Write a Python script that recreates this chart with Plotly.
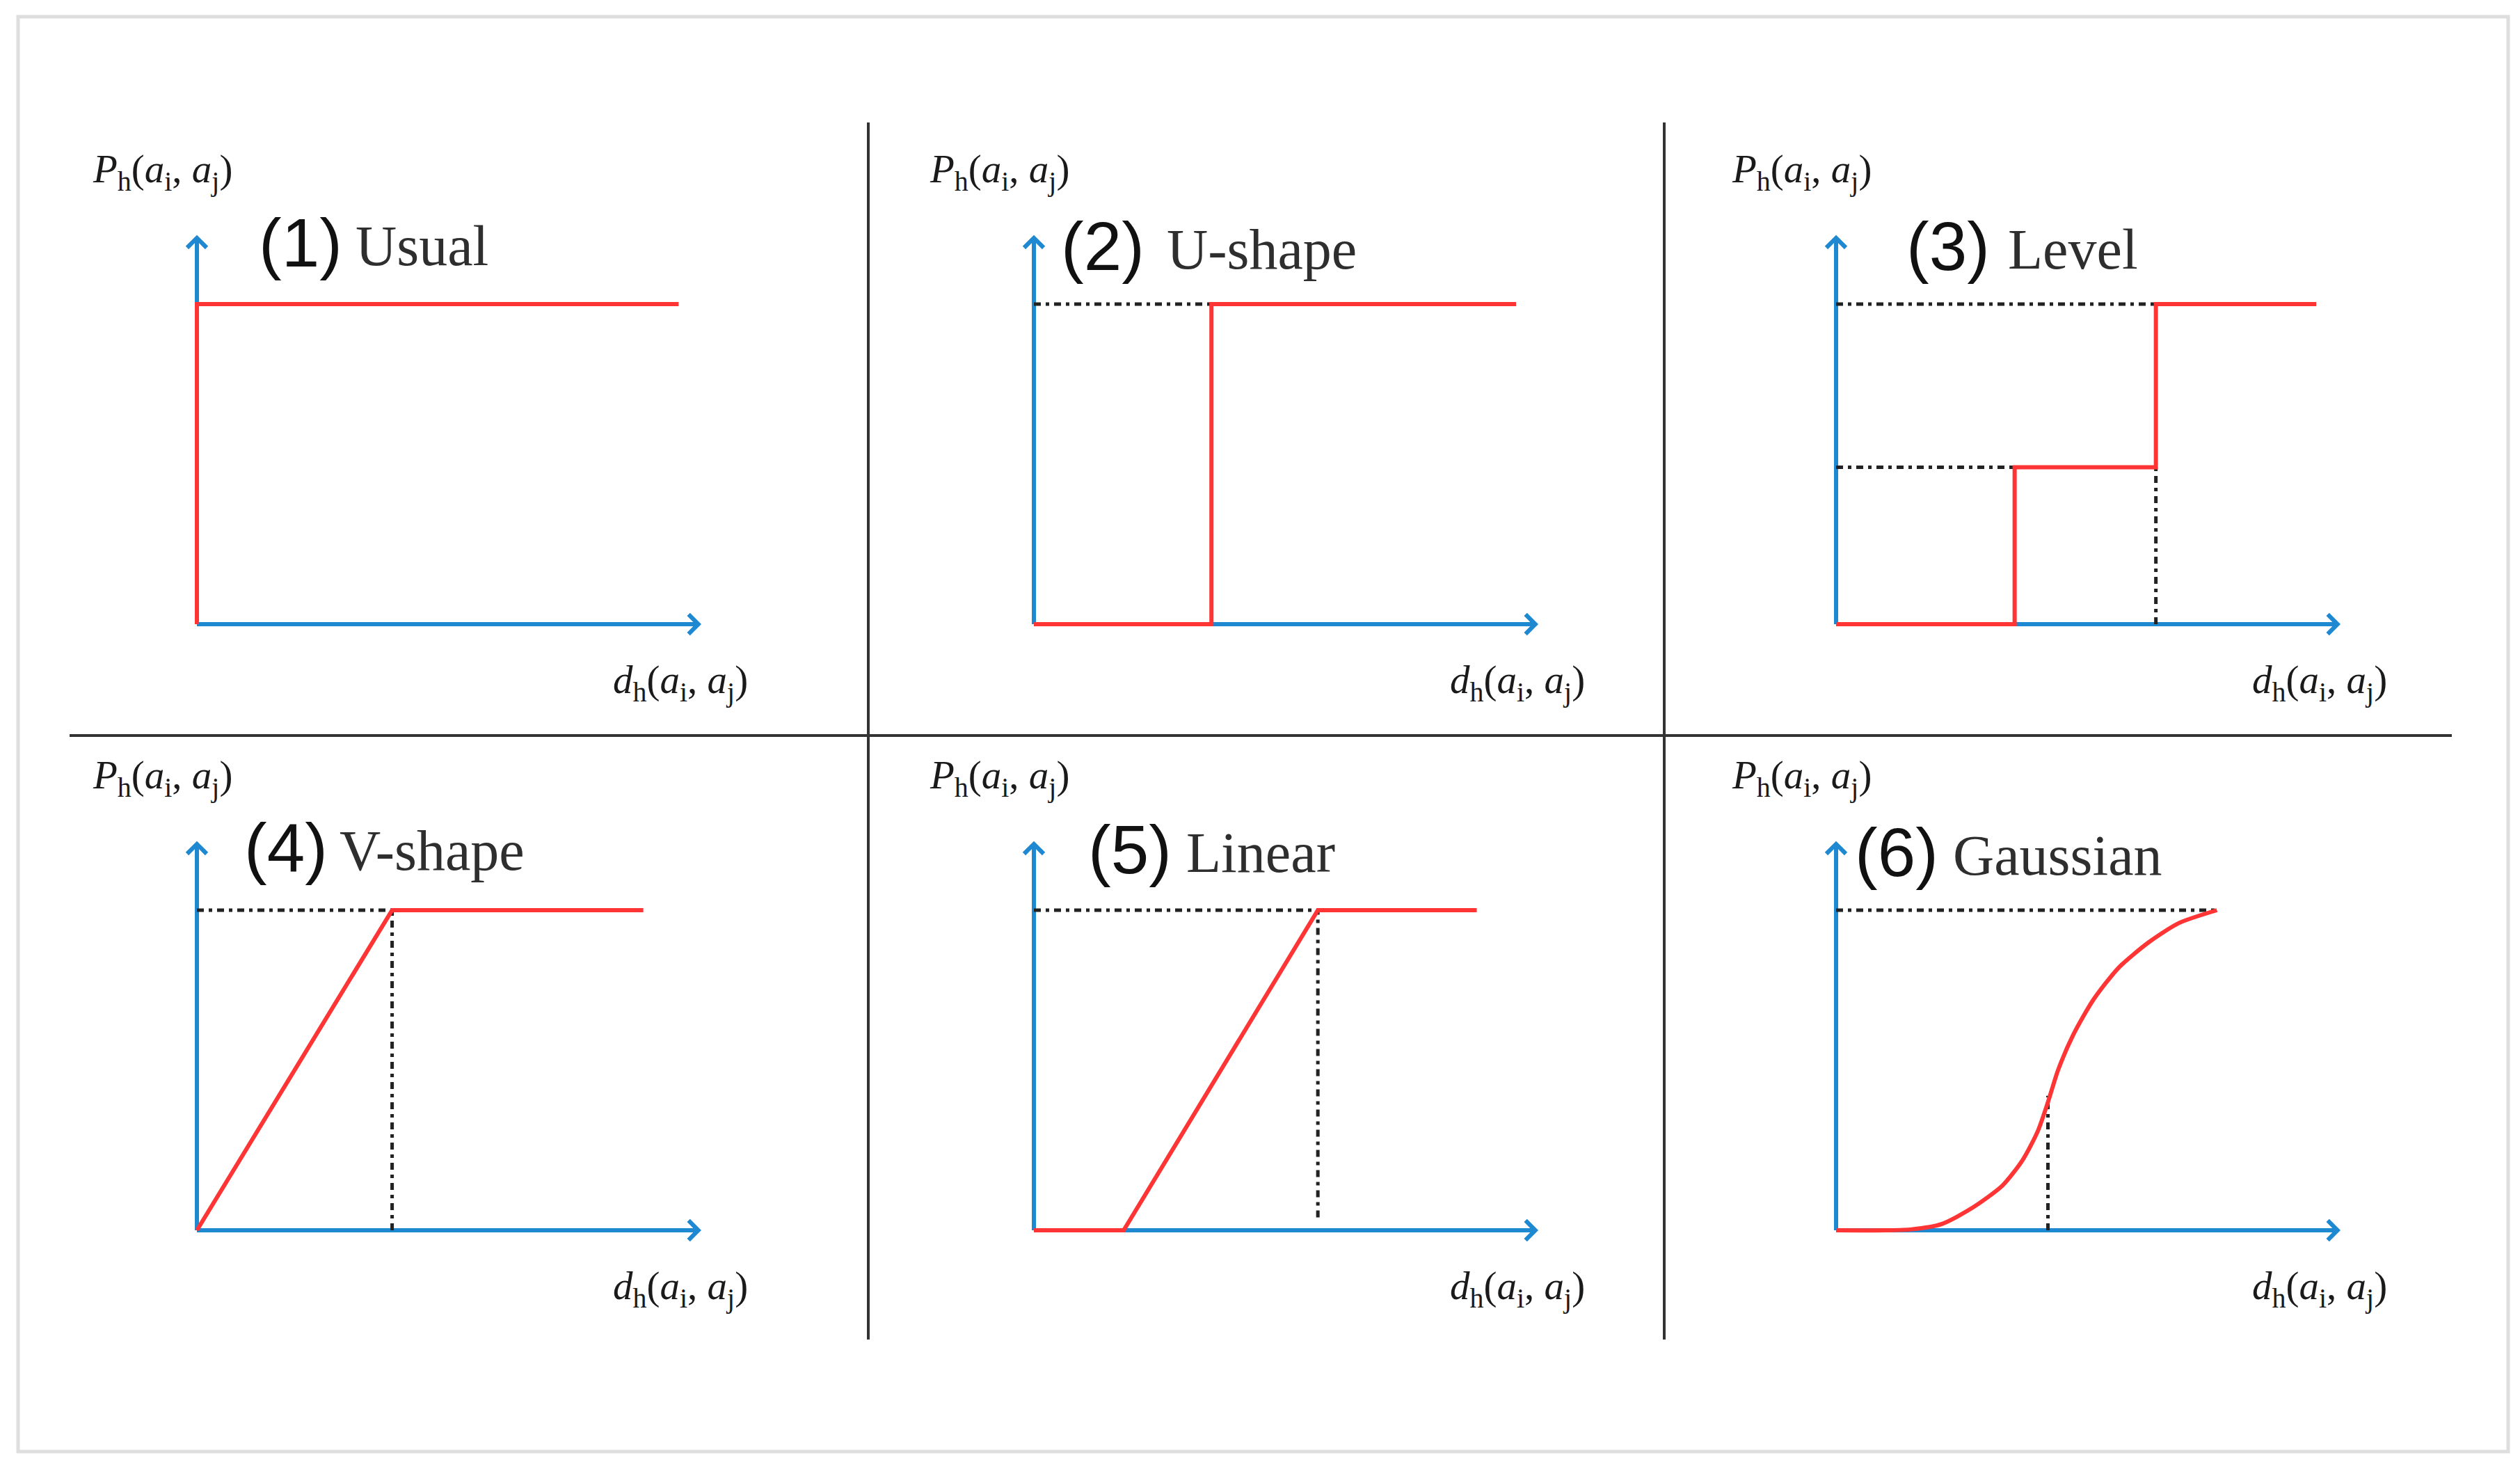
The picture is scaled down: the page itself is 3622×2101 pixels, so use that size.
import plotly.graph_objects as go

# canvas
W, H = 3622, 2101

# preference function panels: titles and data (x = d_h, y = P_h)
panel_nums = ["(1)", "(2)", "(3)", "(4)", "(5)", "(6)"]
panel_names = ["Usual", "U-shape", "Level", "V-shape", "Linear", "Gaussian"]

usual_x = [0, 0, 0.955]
usual_y = [0, 1, 1]

ushape_x = [0, 0.352, 0.352, 0.956]
ushape_y = [0, 0, 1, 1]

level_x = [0, 0.354, 0.354, 0.634, 0.634, 0.952]
level_y = [0, 0, 0.49, 0.49, 1, 1]

vshape_x = [0, 0.387, 0.885]
vshape_y = [0, 1, 1]

linear_x = [0, 0.178, 0.563, 0.878]
linear_y = [0, 0, 1, 1]

gauss_x = [0, 0.10, 0.15, 0.21, 0.27, 0.33, 0.37, 0.40, 0.42, 0.44,
           0.47, 0.51, 0.56, 0.62, 0.68, 0.755]
gauss_y = [0, 0, 0.003, 0.02, 0.07, 0.14, 0.22, 0.31, 0.40, 0.50,
           0.61, 0.72, 0.82, 0.90, 0.96, 1.0]

# dash-dot guide lines per panel: list of (x, y)
guides = [
    [],
    [([0, 0.352], [1, 1])],
    [([0, 0.634], [1, 1]), ([0, 0.354], [0.49, 0.49]), ([0.634, 0.634], [0, 0.49])],
    [([0, 0.387], [1, 1]), ([0.387, 0.387], [0, 1])],
    [([0, 0.563], [1, 1]), ([0.563, 0.563], [0.04, 1])],
    [([0, 0.755], [1, 1]), ([0.42, 0.42], [0, 0.42])],
]
curves = [(usual_x, usual_y), (ushape_x, ushape_y), (level_x, level_y),
          (vshape_x, vshape_y), (linear_x, linear_y), (gauss_x, gauss_y)]

Y_TIP = 1.216
RED = "#ff3434"
BLUE = "#1e88d0"
DOT = "#222222"

# pixel placement of each panel origin (layout only)
UX, UY = 725, 460
XR = [-0.08, 1.08]
YR = [-0.08, 1.3]
origins = [(275, 889), (1478, 889), (2631, 889), (275, 1760), (1478, 1760), (2631, 1760)]


def px(x, y):
    return x / W, 1 - y / H


fig = go.Figure()
layout = dict(
    width=W, height=H, margin=dict(l=0, r=0, t=0, b=0),
    paper_bgcolor="white", plot_bgcolor="rgba(0,0,0,0)",
    showlegend=False, shapes=[], annotations=[],
)

p_lab = "<i>P</i><sub>h</sub>(<i>a</i><sub>i</sub>, <i>a</i><sub>j</sub>)"
d_lab = "<i>d</i><sub>h</sub>(<i>a</i><sub>i</sub>, <i>a</i><sub>j</sub>)"

for i, (ox, oy) in enumerate(origins):
    n = i + 1
    xa = "x" if n == 1 else f"x{n}"
    ya = "y" if n == 1 else f"y{n}"
    dom_x = [(ox + XR[0] * UX) / W, (ox + XR[1] * UX) / W]
    dom_y = [1 - (oy - YR[0] * UY) / H, 1 - (oy - YR[1] * UY) / H]
    axis_style = dict(showgrid=False, zeroline=False, showline=False,
                      showticklabels=False, ticks="", fixedrange=True)
    layout["xaxis" if n == 1 else f"xaxis{n}"] = dict(domain=dom_x, range=XR, anchor=ya, **axis_style)
    layout["yaxis" if n == 1 else f"yaxis{n}"] = dict(domain=dom_y, range=YR, anchor=xa, **axis_style)

    # axes (blue) below the traces
    layout["shapes"].append(dict(type="line", xref=xa, yref=ya, x0=0, y0=0, x1=0.97, y1=0,
                                 line=dict(color=BLUE, width=6), layer="below"))
    layout["shapes"].append(dict(type="line", xref=xa, yref=ya, x0=0, y0=0, x1=0, y1=Y_TIP - 0.03,
                                 line=dict(color=BLUE, width=6), layer="below"))
    # arrow heads
    layout["annotations"].append(dict(x=1, y=0, xref=xa, yref=ya, ax=-40, ay=0, text="",
                                      showarrow=True, arrowhead=4, arrowsize=0.9,
                                      arrowwidth=6, arrowcolor=BLUE))
    layout["annotations"].append(dict(x=0, y=Y_TIP, xref=xa, yref=ya, ax=0, ay=40, text="",
                                      showarrow=True, arrowhead=4, arrowsize=0.9,
                                      arrowwidth=6, arrowcolor=BLUE))

    for gx, gy in guides[i]:
        fig.add_trace(go.Scatter(x=gx, y=gy, mode="lines", xaxis=xa, yaxis=ya,
                                 line=dict(color=DOT, width=5, dash="10px,7px,5px,7px"),
                                 hoverinfo="skip"))
    cx, cy = curves[i]
    fig.add_trace(go.Scatter(x=cx, y=cy, mode="lines", xaxis=xa, yaxis=ya,
                             line=dict(color=RED, width=6,
                                       shape="spline" if i == 5 else "linear", smoothing=0.7),
                             hoverinfo="skip"))

    # axis labels
    lx, ly = px(ox - 50, oy - 650)
    layout["annotations"].append(dict(x=lx, y=ly, xref="paper", yref="paper", text=p_lab,
                                      showarrow=False, xanchor="center", yanchor="middle",
                                      font=dict(family="Liberation Serif", size=57, color="#1a1a1a")))
    lx, ly = px(ox + 695, oy + 84)
    layout["annotations"].append(dict(x=lx, y=ly, xref="paper", yref="paper", text=d_lab,
                                      showarrow=False, xanchor="center", yanchor="middle",
                                      font=dict(family="Liberation Serif", size=57, color="#1a1a1a")))

# titles: number (sans) + name (serif), left edges in pixels
title_pos = [(362, 501, 341), (1515, 1667, 346), (2730, 2876, 346),
             (341, 478, 1210), (1554, 1695, 1213), (2656, 2797, 1217)]
for i, (nx, tx, ty) in enumerate(title_pos):
    x0, y0 = px(nx, ty)
    layout["annotations"].append(dict(x=x0, y=y0, xref="paper", yref="paper", text=panel_nums[i],
                                      showarrow=False, xanchor="left", yanchor="middle",
                                      font=dict(family="Liberation Sans", size=98, color="#111")))
    x1, y1 = px(tx, ty + 4)
    layout["annotations"].append(dict(x=x1, y=y1, xref="paper", yref="paper", text=panel_names[i],
                                      showarrow=False, xanchor="left", yanchor="middle",
                                      font=dict(family="Liberation Serif", size=82, color="#2e2e2e")))

# panel dividers and outer frame
for xv in [1240, 2384]:
    a, b = px(xv, 168)
    c, d = px(xv, 1917)
    layout["shapes"].append(dict(type="line", xref="paper", yref="paper", x0=a, y0=b, x1=c, y1=d,
                                 line=dict(color="#333", width=4)))
a, b = px(92, 1049)
c, d = px(3516, 1049)
layout["shapes"].append(dict(type="line", xref="paper", yref="paper", x0=a, y0=b, x1=c, y1=d,
                             line=dict(color="#333", width=4)))
a, b = px(18, 16)
c, d = px(3597, 2078)
layout["shapes"].append(dict(type="rect", xref="paper", yref="paper", x0=a, y0=b, x1=c, y1=d,
                             line=dict(color="#dedede", width=5)))

fig.update_layout(**layout)
fig.write_html("out.html")
